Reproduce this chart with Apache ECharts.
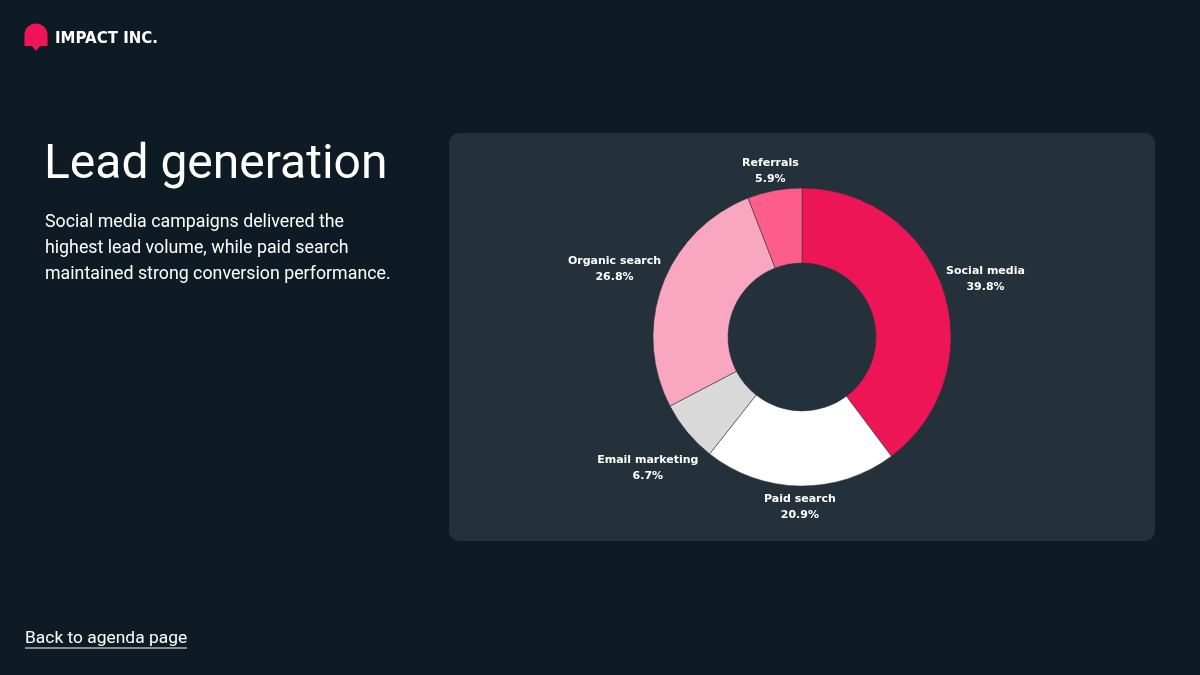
<!DOCTYPE html>
<html>
<head>
<meta charset="utf-8">
<script src="https://cdn.jsdelivr.net/npm/echarts@6/dist/echarts.min.js"></script>
<style>
  html, body { margin: 0; padding: 0; background: #0e1b24; }
  #chart { width: 1200px; height: 675px; }
</style>
</head>
<body>
<div id="chart"></div>
<script>
// ---- data ----
const categories = ['Social media', 'Paid search', 'Email marketing', 'Organic search', 'Referrals'];
const shares = [39.8, 20.9, 6.7, 26.8, 5.9];
const sliceColors = ['#ee1556', '#ffffff', '#d9d9d9', '#f9a6c1', '#fc5d8a'];

const brandName = 'IMPACT INC.';
const titleText = 'Lead generation';
const bodyText = 'Social media campaigns delivered the\nhighest lead volume, while paid search\nmaintained strong conversion performance.';
const linkText = 'Back to agenda page';

// ---- layout ----
const BG = '#0e1b24';
const PANEL = '#25313a';
const LOGO = '#ee1556';
const CX = 802, CY = 337, R_IN = 74, R_OUT = 149, LABEL_GAP = 2, LABEL_DY = 3;

const total = shares.reduce((a, b) => a + b, 0);

const chart = echarts.init(document.getElementById('chart'), null, { renderer: 'canvas' });

const option = {
  backgroundColor: BG,
  animation: false,
  graphic: [
    { type: 'rect', z: 0, shape: { x: 449, y: 133, width: 706, height: 408, r: 10 }, style: { fill: PANEL } },
    { type: 'sector', z: 1, shape: { cx: 36, cy: 35, r: 11.5, r0: 0, startAngle: Math.PI, endAngle: Math.PI * 2, clockwise: true },
      style: { fill: LOGO } },
    { type: 'rect', z: 1, shape: { x: 24.5, y: 34.5, width: 23, height: 11.5 }, style: { fill: LOGO } },
    { type: 'polygon', z: 1, shape: { points: [[31, 45], [41, 45], [36, 51]] }, style: { fill: LOGO } },
    { type: 'text', z: 1, style: { text: brandName, x: 55, y: 39, fill: '#ffffff',
      font: 'bold 15px "DejaVu Sans"', textVerticalAlign: 'middle' } },
    { type: 'text', z: 1, style: { text: titleText, x: 44, y: 166, fill: '#ffffff',
      font: '400 48px Roboto', textVerticalAlign: 'middle' } },
    { type: 'text', z: 1, style: { text: bodyText, x: 45, y: 210, fill: '#ffffff',
      font: '400 17.8px Roboto', lineHeight: 26, textVerticalAlign: 'top' } },
    { type: 'text', z: 1, style: { text: linkText, x: 25, y: 639, fill: '#ffffff',
      font: '400 17.4px Roboto', textVerticalAlign: 'middle' } },
    { type: 'line', z: 1, shape: { x1: 25, y1: 648, x2: 187, y2: 648 }, style: { stroke: '#ffffff', lineWidth: 1 } }
  ],
  series: [{
    type: 'pie',
    center: [CX, CY],
    radius: [R_IN, R_OUT],
    startAngle: 90,
    clockwise: true,
    avoidLabelOverlap: false,
    itemStyle: { borderColor: PANEL, borderWidth: 0.5 },
    data: categories.map((c, i) => ({ name: c, value: shares[i], itemStyle: { color: sliceColors[i] } })),
    label: {
      show: true,
      position: 'outside',
      color: '#ffffff',
      fontFamily: 'DejaVu Sans',
      fontWeight: 'bold',
      fontSize: 11,
      lineHeight: 16,
      align: 'center',
      formatter: p => p.name + '\n' + p.value.toFixed(1) + '%'
    },
    labelLine: { show: false, length: 0, length2: 0 },
    labelLayout: function (p) {
      const i = p.dataIndex;
      let before = 0;
      for (let j = 0; j < i; j++) before += shares[j];
      const mid = (before + shares[i] / 2) / total * Math.PI * 2;
      const nx = Math.sin(mid), ny = -Math.cos(mid);
      const w = p.labelRect.width, h = p.labelRect.height;
      const d = R_OUT + LABEL_GAP + Math.abs(nx) * w / 2 + Math.abs(ny) * h / 2;
      return { x: CX + nx * d, y: CY + ny * d + LABEL_DY, align: 'center', verticalAlign: 'middle' };
    },
    emphasis: { disabled: true }
  }]
};
chart.setOption(option);
</script>
</body>
</html>
